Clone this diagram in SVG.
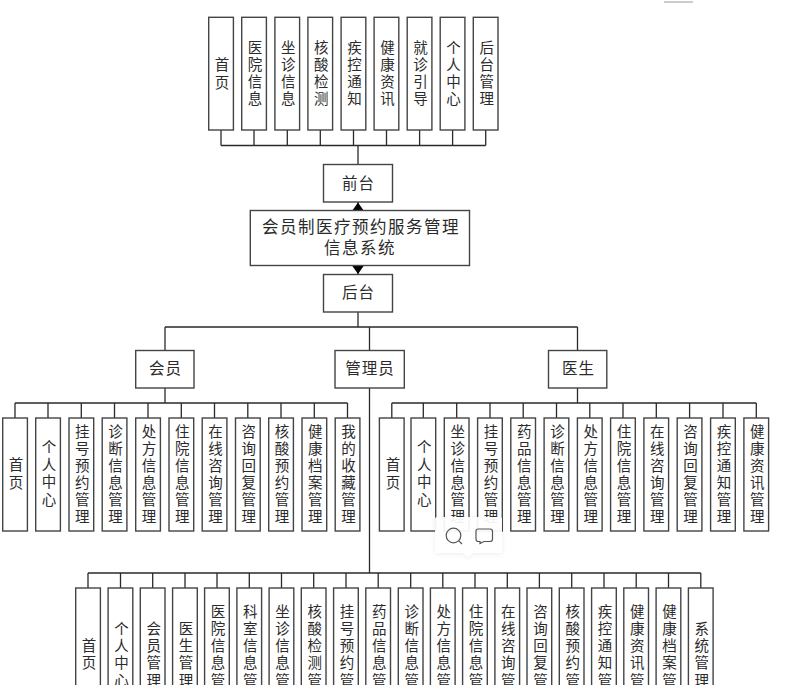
<svg xmlns="http://www.w3.org/2000/svg" width="808" height="685" viewBox="0 0 808 685">
<style>
rect.b{fill:#fff;stroke:#444;stroke-width:1.4}
text{font-family:"Noto Sans CJK SC","Liberation Sans",sans-serif;font-size:14.5px;fill:#2b2b2b;text-anchor:middle}
text.t{font-size:15.5px;letter-spacing:1px}
text.s{font-size:16.5px;letter-spacing:1.5px}
.c{fill:none;stroke:#2a2a2a;stroke-width:1.3}
</style>
<defs>
<filter id="sh" x="-20%" y="-20%" width="140%" height="150%"><feDropShadow dx="0" dy="1" stdDeviation="2.5" flood-color="#000" flood-opacity="0.08"/></filter>
</defs>
<rect width="808" height="685" fill="#fff"/>
<path d="M664 2H693" stroke="#999" stroke-width="1" fill="none"/>
<g id="connectors" class="c">
<path d="M221 130V145.5M254 130V145.5M287.3 130V145.5M320.3 130V145.5M353.5 130V145.5M386.5 130V145.5M419.6 130V145.5M452.6 130V145.5M485.7 130V145.5M221 145.5H485.7M358 145.5V164"/>
<path d="M358 202V210.5M358 265.5V274M358 312V327M165 327H577.5M165 327V350.5M369.5 327V350.5M577.5 327V350.5"/>
<path d="M165 388V403M15 403H347.5M15 403V418M48 403V418M81.3 403V418M114.5 403V418M148 403V418M181.3 403V418M214.5 403V418M247.8 403V418M281 403V418M314.3 403V418M347.5 403V418"/>
<path d="M577.5 388V403M391.8 403H756.3M391.8 403V418M423.3 403V418M456.7 403V418M490 403V418M523.2 403V418M556.5 403V418M589.8 403V418M623 403V418M656.3 403V418M689.6 403V418M723 403V418M756.3 403V418"/>
<path d="M369.5 388V573M88 573H700.8M88 573V588M120.5 573V588M152.7 573V588M185 573V588M217 573V588M249.3 573V588M281.5 573V588M313.7 573V588M346 573V588M378.2 573V588M410.7 573V588M442.8 573V588M475 573V588M507.3 573V588M539.4 573V588M571.7 573V588M604 573V588M636.2 573V588M668.5 573V588M700.8 573V588"/>
<path d="M358 202.5L352 211H364Z M358 274L352 265.5H364Z" fill="#000" stroke="none"/>
</g>
<g id="n-front"><rect class="b" x="323.5" y="164.5" width="69" height="37.5"/><text class="t" x="358.500" y="188.500">前台</text></g>
<g id="n-system"><rect class="b" x="250.300" y="210.500" width="219.200" height="55"/><text class="s" x="361" y="232.500">会员制医疗预约服务管理</text><text class="s" x="360" y="253.500">信息系统</text></g>
<g id="n-back"><rect class="b" x="323.5" y="274.500" width="69" height="37.500"/><text class="t" x="358.500" y="298">后台</text></g>
<g id="n-member"><rect class="b" x="135.700" y="350.500" width="58.300" height="37.500"/><text class="t" x="165.500" y="374">会员</text></g>
<g id="n-admin"><rect class="b" x="335" y="350.500" width="69.300" height="37.500"/><text class="t" x="370" y="374">管理员</text></g>
<g id="n-doctor"><rect class="b" x="548.500" y="350.500" width="58.300" height="37.500"/><text class="t" x="578.500" y="374">医生</text></g>

<g id="f1"><rect class="b" x="208.700" y="17.300" width="24.700" height="112.700"/><text x="222 222" y="69.500 88">首页</text></g>
<g id="f2"><rect class="b" x="241.700" y="17.300" width="24.700" height="112.700"/><text x="255 255 255 255" y="52.600 70 87.200 104.400">医院信息</text></g>
<g id="f3"><rect class="b" x="274.900" y="17.300" width="24.700" height="112.700"/><text x="288.300 288.300 288.300 288.300" y="52.600 70 87.200 104.400">坐诊信息</text></g>
<g id="f4"><rect class="b" x="307.900" y="17.300" width="24.700" height="112.700"/><text x="321.300 321.300 321.300 321.300" y="52.600 70 87.200 104.400">核酸检测</text></g>
<g id="f5"><rect class="b" x="341.100" y="17.300" width="24.700" height="112.700"/><text x="354.500 354.500 354.500 354.500" y="52.600 70 87.200 104.400">疾控通知</text></g>
<g id="f6"><rect class="b" x="374.100" y="17.300" width="24.700" height="112.700"/><text x="387.500 387.500 387.500 387.500" y="52.600 70 87.200 104.400">健康资讯</text></g>
<g id="f7"><rect class="b" x="407.200" y="17.300" width="24.700" height="112.700"/><text x="420.600 420.600 420.600 420.600" y="52.600 70 87.200 104.400">就诊引导</text></g>
<g id="f8"><rect class="b" x="440.200" y="17.300" width="24.700" height="112.700"/><text x="453.600 453.600 453.600 453.600" y="52.600 70 87.200 104.400">个人中心</text></g>
<g id="f9"><rect class="b" x="473.300" y="17.300" width="24.700" height="112.700"/><text x="486.700 486.700 486.700 486.700" y="52.600 70 87.200 104.400">后台管理</text></g>

<g id="m1"><rect class="b" x="2.700" y="418" width="24.700" height="113"/><text x="16 16" y="470 487.500">首页</text></g>
<g id="m2"><rect class="b" x="35.700" y="418" width="24.700" height="113"/><text x="49 49 49 49" y="452 469.500 487 504.500">个人中心</text></g>
<g id="m3"><rect class="b" x="69" y="418" width="24.700" height="113"/><text x="82.300 82.300 82.300 82.300 82.300 82.300" y="437 454 471 488 505 522">挂号预约管理</text></g>
<g id="m4"><rect class="b" x="102.200" y="418" width="24.700" height="113"/><text x="115.500 115.500 115.500 115.500 115.500 115.500" y="437 454 471 488 505 522">诊断信息管理</text></g>
<g id="m5"><rect class="b" x="135.700" y="418" width="24.700" height="113"/><text x="149 149 149 149 149 149" y="437 454 471 488 505 522">处方信息管理</text></g>
<g id="m6"><rect class="b" x="169" y="418" width="24.700" height="113"/><text x="182.300 182.300 182.300 182.300 182.300 182.300" y="437 454 471 488 505 522">住院信息管理</text></g>
<g id="m7"><rect class="b" x="202.200" y="418" width="24.700" height="113"/><text x="215.500 215.500 215.500 215.500 215.500 215.500" y="437 454 471 488 505 522">在线咨询管理</text></g>
<g id="m8"><rect class="b" x="235.500" y="418" width="24.700" height="113"/><text x="248.800 248.800 248.800 248.800 248.800 248.800" y="437 454 471 488 505 522">咨询回复管理</text></g>
<g id="m9"><rect class="b" x="268.700" y="418" width="24.700" height="113"/><text x="282 282 282 282 282 282" y="437 454 471 488 505 522">核酸预约管理</text></g>
<g id="m10"><rect class="b" x="302" y="418" width="24.700" height="113"/><text x="315.300 315.300 315.300 315.300 315.300 315.300" y="437 454 471 488 505 522">健康档案管理</text></g>
<g id="m11"><rect class="b" x="335.200" y="418" width="24.700" height="113"/><text x="348.500 348.500 348.500 348.500 348.500 348.500" y="437 454 471 488 505 522">我的收藏管理</text></g>

<g id="d1"><rect class="b" x="379.400" y="418" width="24.700" height="113"/><text x="393 393" y="470 487.500">首页</text></g>
<g id="d2"><rect class="b" x="411" y="418" width="24.700" height="113"/><text x="424.300 424.300 424.300 424.300" y="452 469.500 487 504.500">个人中心</text></g>
<g id="d3"><rect class="b" x="444.300" y="418" width="24.700" height="113"/><text x="457.700 457.700 457.700 457.700 457.700 457.700" y="437 454 471 488 505 522">坐诊信息管理</text></g>
<g id="d4"><rect class="b" x="477.600" y="418" width="24.700" height="113"/><text x="491 491 491 491 491 491" y="437 454 471 488 505 522">挂号预约管理</text></g>
<g id="d5"><rect class="b" x="510.800" y="418" width="24.700" height="113"/><text x="524.200 524.200 524.200 524.200 524.200 524.200" y="437 454 471 488 505 522">药品信息管理</text></g>
<g id="d6"><rect class="b" x="544.100" y="418" width="24.700" height="113"/><text x="557.500 557.500 557.500 557.500 557.500 557.500" y="437 454 471 488 505 522">诊断信息管理</text></g>
<g id="d7"><rect class="b" x="577.400" y="418" width="24.700" height="113"/><text x="590.800 590.800 590.800 590.800 590.800 590.800" y="437 454 471 488 505 522">处方信息管理</text></g>
<g id="d8"><rect class="b" x="610.600" y="418" width="24.700" height="113"/><text x="624 624 624 624 624 624" y="437 454 471 488 505 522">住院信息管理</text></g>
<g id="d9"><rect class="b" x="643.900" y="418" width="24.700" height="113"/><text x="657.300 657.300 657.300 657.300 657.300 657.300" y="437 454 471 488 505 522">在线咨询管理</text></g>
<g id="d10"><rect class="b" x="677.200" y="418" width="24.700" height="113"/><text x="690.600 690.600 690.600 690.600 690.600 690.600" y="437 454 471 488 505 522">咨询回复管理</text></g>
<g id="d11"><rect class="b" x="710.600" y="418" width="24.700" height="113"/><text x="724 724 724 724 724 724" y="437 454 471 488 505 522">疾控通知管理</text></g>
<g id="d12"><rect class="b" x="743.900" y="418" width="24.700" height="113"/><text x="757.300 757.300 757.300 757.300 757.300 757.300" y="437 454 471 488 505 522">健康资讯管理</text></g>

<g id="a1"><rect class="b" x="75.700" y="588" width="24.700" height="113"/><text x="89 89" y="650.500 668">首页</text></g>
<g id="a2"><rect class="b" x="108.100" y="588" width="24.700" height="113"/><text x="121.500 121.500 121.500 121.500" y="633.500 651 668 685.500">个人中心</text></g>
<g id="a3"><rect class="b" x="140.300" y="588" width="24.700" height="113"/><text x="153.700 153.700 153.700 153.700" y="633.500 651 668 685.500">会员管理</text></g>
<g id="a4"><rect class="b" x="172.600" y="588" width="24.700" height="113"/><text x="186 186 186 186" y="633.500 651 668 685.500">医生管理</text></g>
<g id="a5"><rect class="b" x="204.600" y="588" width="24.700" height="113"/><text x="218 218 218 218 218" y="617 634 651 668 685.500">医院信息管</text></g>
<g id="a6"><rect class="b" x="236.900" y="588" width="24.700" height="113"/><text x="250.300 250.300 250.300 250.300 250.300" y="617 634 651 668 685.500">科室信息管</text></g>
<g id="a7"><rect class="b" x="269.100" y="588" width="24.700" height="113"/><text x="282.500 282.500 282.500 282.500 282.500" y="617 634 651 668 685.500">坐诊信息管</text></g>
<g id="a8"><rect class="b" x="301.300" y="588" width="24.700" height="113"/><text x="314.700 314.700 314.700 314.700 314.700" y="617 634 651 668 685.500">核酸检测管</text></g>
<g id="a9"><rect class="b" x="333.600" y="588" width="24.700" height="113"/><text x="347 347 347 347 347" y="617 634 651 668 685.500">挂号预约管</text></g>
<g id="a10"><rect class="b" x="365.800" y="588" width="24.700" height="113"/><text x="379.200 379.200 379.200 379.200 379.200" y="617 634 651 668 685.500">药品信息管</text></g>
<g id="a11"><rect class="b" x="398.300" y="588" width="24.700" height="113"/><text x="411.700 411.700 411.700 411.700 411.700" y="617 634 651 668 685.500">诊断信息管</text></g>
<g id="a12"><rect class="b" x="430.400" y="588" width="24.700" height="113"/><text x="443.800 443.800 443.800 443.800 443.800" y="617 634 651 668 685.500">处方信息管</text></g>
<g id="a13"><rect class="b" x="462.600" y="588" width="24.700" height="113"/><text x="476 476 476 476 476" y="617 634 651 668 685.500">住院信息管</text></g>
<g id="a14"><rect class="b" x="494.900" y="588" width="24.700" height="113"/><text x="508.300 508.300 508.300 508.300 508.300" y="617 634 651 668 685.500">在线咨询管</text></g>
<g id="a15"><rect class="b" x="527" y="588" width="24.700" height="113"/><text x="540.400 540.400 540.400 540.400 540.400" y="617 634 651 668 685.500">咨询回复管</text></g>
<g id="a16"><rect class="b" x="559.300" y="588" width="24.700" height="113"/><text x="572.700 572.700 572.700 572.700 572.700" y="617 634 651 668 685.500">核酸预约管</text></g>
<g id="a17"><rect class="b" x="591.600" y="588" width="24.700" height="113"/><text x="605 605 605 605 605" y="617 634 651 668 685.500">疾控通知管</text></g>
<g id="a18"><rect class="b" x="623.800" y="588" width="24.700" height="113"/><text x="637.200 637.200 637.200 637.200 637.200" y="617 634 651 668 685.500">健康资讯管</text></g>
<g id="a19"><rect class="b" x="656.100" y="588" width="24.700" height="113"/><text x="669.500 669.500 669.500 669.500 669.500" y="617 634 651 668 685.500">健康档案管</text></g>
<g id="a20"><rect class="b" x="688.400" y="588" width="24.700" height="113"/><text x="701.800 701.800 701.800 701.800" y="633.500 651 668 685.500">系统管理</text></g>

<g id="toolbar">
<path d="M437 517H500a2 2 0 0 1 2 2V551a2 2 0 0 1-2 2H473L468 557L463 553H437a2 2 0 0 1-2-2V519a2 2 0 0 1 2-2Z" fill="#fff" fill-opacity="0.93" filter="url(#sh)"/>
<circle cx="453.500" cy="535.500" r="7.300" fill="none" stroke="#555" stroke-width="1.200"/>
<path d="M458.800 540.800L462 544" fill="none" stroke="#555" stroke-width="1.200"/>
<path d="M478 529H490a2.500 2.500 0 0 1 2.500 2.500V539a2.500 2.500 0 0 1-2.500 2.500H484L480 543.500V541.500H478.500a2.500 2.500 0 0 1-2.500-2.500V531a2 2 0 0 1 2-2Z" fill="none" stroke="#555" stroke-width="1.200"/>
</g>
</svg>
